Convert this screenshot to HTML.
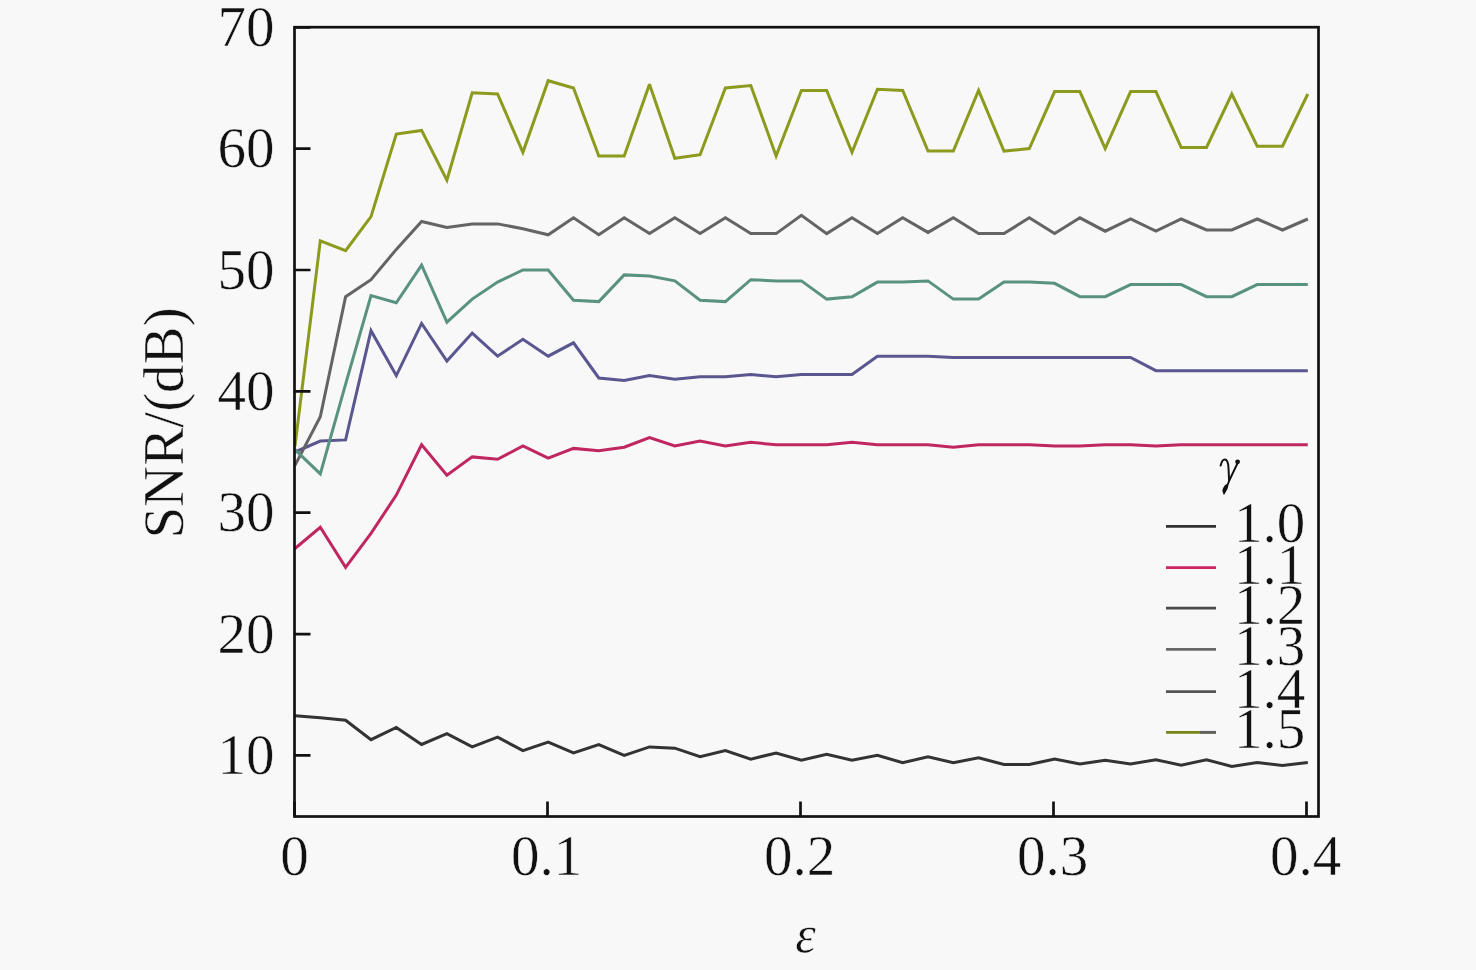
<!DOCTYPE html>
<html><head><meta charset="utf-8"><style>
html,body{margin:0;padding:0;background:#f8f8f8;}
svg{display:block;}
text{font-family:"Liberation Serif",serif;fill:#111;stroke:#f8f8f8;stroke-width:0.5px;}
</style></head><body>
<svg width="1476" height="970" viewBox="0 0 1476 970">
<rect x="0" y="0" width="1476" height="970" fill="#f8f8f8"/>

<polyline points="295.0,715.8 320.3,717.8 345.6,720.2 371.0,739.7 396.3,727.5 421.6,744.5 446.9,733.6 472.2,746.9 497.6,737.2 522.9,750.6 548.2,742.1 573.5,753.0 598.8,744.5 624.2,755.4 649.5,746.9 674.8,748.2 700.1,756.7 725.4,750.6 750.8,759.1 776.1,753.0 801.4,760.3 826.7,754.2 852.0,760.3 877.4,755.4 902.7,762.7 928.0,756.7 953.3,762.7 978.6,757.9 1004.0,764.5 1029.3,764.5 1054.6,759.1 1079.9,763.9 1105.2,760.3 1130.6,763.9 1155.9,759.7 1181.2,765.1 1206.5,759.7 1231.8,766.4 1257.2,762.5 1282.5,765.4 1307.8,762.5" fill="none" stroke="#333333" stroke-width="3.0" stroke-linejoin="miter" stroke-miterlimit="3"/>
<polyline points="295.0,548.5 320.3,527.3 345.6,567.3 371.0,533.4 396.3,495.1 421.6,444.8 446.9,475.1 472.2,456.9 497.6,459.3 522.9,446.0 548.2,458.1 573.5,448.4 598.8,450.8 624.2,447.2 649.5,437.5 674.8,446.0 700.1,441.1 725.4,446.0 750.8,442.3 776.1,444.8 801.4,444.8 826.7,444.8 852.0,442.3 877.4,444.8 902.7,444.8 928.0,444.8 953.3,447.2 978.6,444.8 1004.0,444.8 1029.3,444.8 1054.6,446.0 1079.9,446.0 1105.2,444.8 1130.6,444.8 1155.9,446.0 1181.2,444.8 1206.5,444.8 1231.8,444.8 1257.2,444.8 1282.5,444.8 1307.8,444.8" fill="none" stroke="#c02660" stroke-width="3.0" stroke-linejoin="miter" stroke-miterlimit="3"/>
<polyline points="295.0,452.0 320.3,441.1 345.6,439.9 371.0,330.7 396.3,375.6 421.6,323.4 446.9,361.0 472.2,333.1 497.6,356.2 522.9,339.2 548.2,356.2 573.5,342.8 598.8,378.0 624.2,380.4 649.5,375.6 674.8,379.2 700.1,376.8 725.4,376.8 750.8,374.4 776.1,376.8 801.4,374.4 826.7,374.4 852.0,374.4 877.4,356.2 902.7,356.2 928.0,356.2 953.3,357.4 978.6,357.4 1004.0,357.4 1029.3,357.4 1054.6,357.4 1079.9,357.4 1105.2,357.4 1130.6,357.4 1155.9,370.7 1181.2,370.7 1206.5,370.7 1231.8,370.7 1257.2,370.7 1282.5,370.7 1307.8,370.7" fill="none" stroke="#5a5690" stroke-width="3.0" stroke-linejoin="miter" stroke-miterlimit="3"/>
<polyline points="295.0,465.4 320.3,416.8 345.6,296.7 371.0,279.7 396.3,249.4 421.6,221.5 446.9,227.5 472.2,223.9 497.6,223.9 522.9,228.7 548.2,234.8 573.5,217.8 598.8,234.8 624.2,217.8 649.5,233.6 674.8,217.8 700.1,233.6 725.4,217.8 750.8,233.6 776.1,233.6 801.4,215.4 826.7,233.6 852.0,217.8 877.4,233.6 902.7,217.8 928.0,232.4 953.3,217.8 978.6,233.6 1004.0,233.6 1029.3,217.8 1054.6,233.6 1079.9,217.8 1105.2,231.2 1130.6,219.0 1155.9,231.2 1181.2,219.0 1206.5,230.0 1231.8,230.0 1257.2,219.0 1282.5,230.0 1307.8,219.0" fill="none" stroke="#646464" stroke-width="3.0" stroke-linejoin="miter" stroke-miterlimit="3"/>
<polyline points="295.0,449.6 320.3,473.9 345.6,384.1 371.0,295.5 396.3,302.8 421.6,265.1 446.9,322.2 472.2,299.1 497.6,282.1 522.9,270.0 548.2,270.0 573.5,300.3 598.8,301.6 624.2,274.9 649.5,276.1 674.8,280.9 700.1,300.3 725.4,301.6 750.8,279.7 776.1,280.9 801.4,280.9 826.7,299.1 852.0,296.7 877.4,282.1 902.7,282.1 928.0,280.9 953.3,299.1 978.6,299.1 1004.0,282.1 1029.3,282.1 1054.6,283.3 1079.9,296.7 1105.2,296.7 1130.6,284.6 1155.9,284.6 1181.2,284.6 1206.5,296.7 1231.8,296.7 1257.2,284.6 1282.5,284.6 1307.8,284.6" fill="none" stroke="#5a9282" stroke-width="3.0" stroke-linejoin="miter" stroke-miterlimit="3"/>
<polyline points="295.0,446.0 320.3,240.9 345.6,250.6 371.0,216.6 396.3,134.1 421.6,130.4 446.9,180.2 472.2,92.8 497.6,94.0 522.9,152.3 548.2,80.7 573.5,88.0 598.8,155.9 624.2,155.9 649.5,84.3 674.8,158.3 700.1,154.7 725.4,88.0 750.8,85.5 776.1,155.9 801.4,90.4 826.7,90.4 852.0,152.3 877.4,89.2 902.7,90.4 928.0,151.1 953.3,151.1 978.6,90.4 1004.0,151.1 1029.3,148.6 1054.6,91.6 1079.9,91.6 1105.2,148.6 1130.6,91.6 1155.9,91.6 1181.2,147.4 1206.5,147.4 1231.8,94.0 1257.2,146.2 1282.5,146.2 1307.8,94.0" fill="none" stroke="#8c9a1e" stroke-width="3.0" stroke-linejoin="miter" stroke-miterlimit="3"/>
<rect x="294.5" y="27.2" width="1024.0" height="789.3" fill="none" stroke="#111" stroke-width="2.7"/>
<path d="M294.5 816.5V801.5 M547.5 816.5V801.5 M800.5 816.5V801.5 M1053.5 816.5V801.5 M1306.5 816.5V801.5 M294.5 755.4H310.5 M294.5 634.1H310.5 M294.5 512.7H310.5 M294.5 391.4H310.5 M294.5 270.0H310.5 M294.5 148.6H310.5 M294.5 27.3H310.5" stroke="#111" stroke-width="2.7" fill="none"/>
<text x="274.5" y="774.0" font-size="57" text-anchor="end">10</text>
<text x="274.5" y="652.7" font-size="57" text-anchor="end">20</text>
<text x="274.5" y="531.3" font-size="57" text-anchor="end">30</text>
<text x="274.5" y="410.0" font-size="57" text-anchor="end">40</text>
<text x="274.5" y="288.6" font-size="57" text-anchor="end">50</text>
<text x="274.5" y="167.2" font-size="57" text-anchor="end">60</text>
<text x="274.5" y="45.9" font-size="57" text-anchor="end">70</text>
<text x="294.5" y="874.5" font-size="57" text-anchor="middle">0</text>
<text x="546.5" y="874.5" font-size="57" text-anchor="middle">0.1</text>
<text x="799.5" y="874.5" font-size="57" text-anchor="middle">0.2</text>
<text x="1052.5" y="874.5" font-size="57" text-anchor="middle">0.3</text>
<text x="1305.5" y="874.5" font-size="57" text-anchor="middle">0.4</text>
<text transform="translate(182.6,423) rotate(-90)" font-size="57" text-anchor="middle">SNR/(dB)</text>
<text x="805.5" y="951.5" font-size="52" font-style="italic" text-anchor="middle">&#949;</text>
<g fill="#111" stroke="#111" stroke-linecap="round"><path d="M1220.6,465.6 C1221.6,461.2 1223,459.4 1224.7,459.4 C1227.3,459.4 1228.3,462.5 1228.5,468 L1229.1,480.5" fill="none" stroke-width="2"/><path d="M1237.4,463.5 L1230,479 L1224,493.5" fill="none" stroke-width="1.9"/><circle cx="1237.6" cy="461.8" r="2.4" stroke="none"/><ellipse cx="1225.3" cy="488.5" rx="4.6" ry="2.1" transform="rotate(-64 1225.3 488.5)" stroke="none"/></g>
<line x1="1166" y1="526.4" x2="1216" y2="526.4" stroke="#333333" stroke-width="2.8"/>
<text x="1234" y="542.4" font-size="57">1.0</text>
<line x1="1166" y1="567.6" x2="1216" y2="567.6" stroke="#cc2462" stroke-width="2.8"/>
<text x="1234" y="583.6" font-size="57">1.1</text>
<line x1="1166" y1="608.1" x2="1216" y2="608.1" stroke="#4a4a4a" stroke-width="2.8"/>
<text x="1234" y="624.1" font-size="57">1.2</text>
<line x1="1166" y1="649.4" x2="1216" y2="649.4" stroke="#686868" stroke-width="2.8"/>
<text x="1234" y="665.4" font-size="57">1.3</text>
<line x1="1166" y1="691.6" x2="1216" y2="691.6" stroke="#555555" stroke-width="2.8"/>
<text x="1234" y="707.6" font-size="57">1.4</text>
<line x1="1166" y1="732.3" x2="1216" y2="732.3" stroke="#7a8518" stroke-width="2.8"/>
<line x1="1200" y1="732.3" x2="1216" y2="732.3" stroke="#626262" stroke-width="2.8"/>
<text x="1234" y="748.3" font-size="57">1.5</text>
</svg></body></html>
